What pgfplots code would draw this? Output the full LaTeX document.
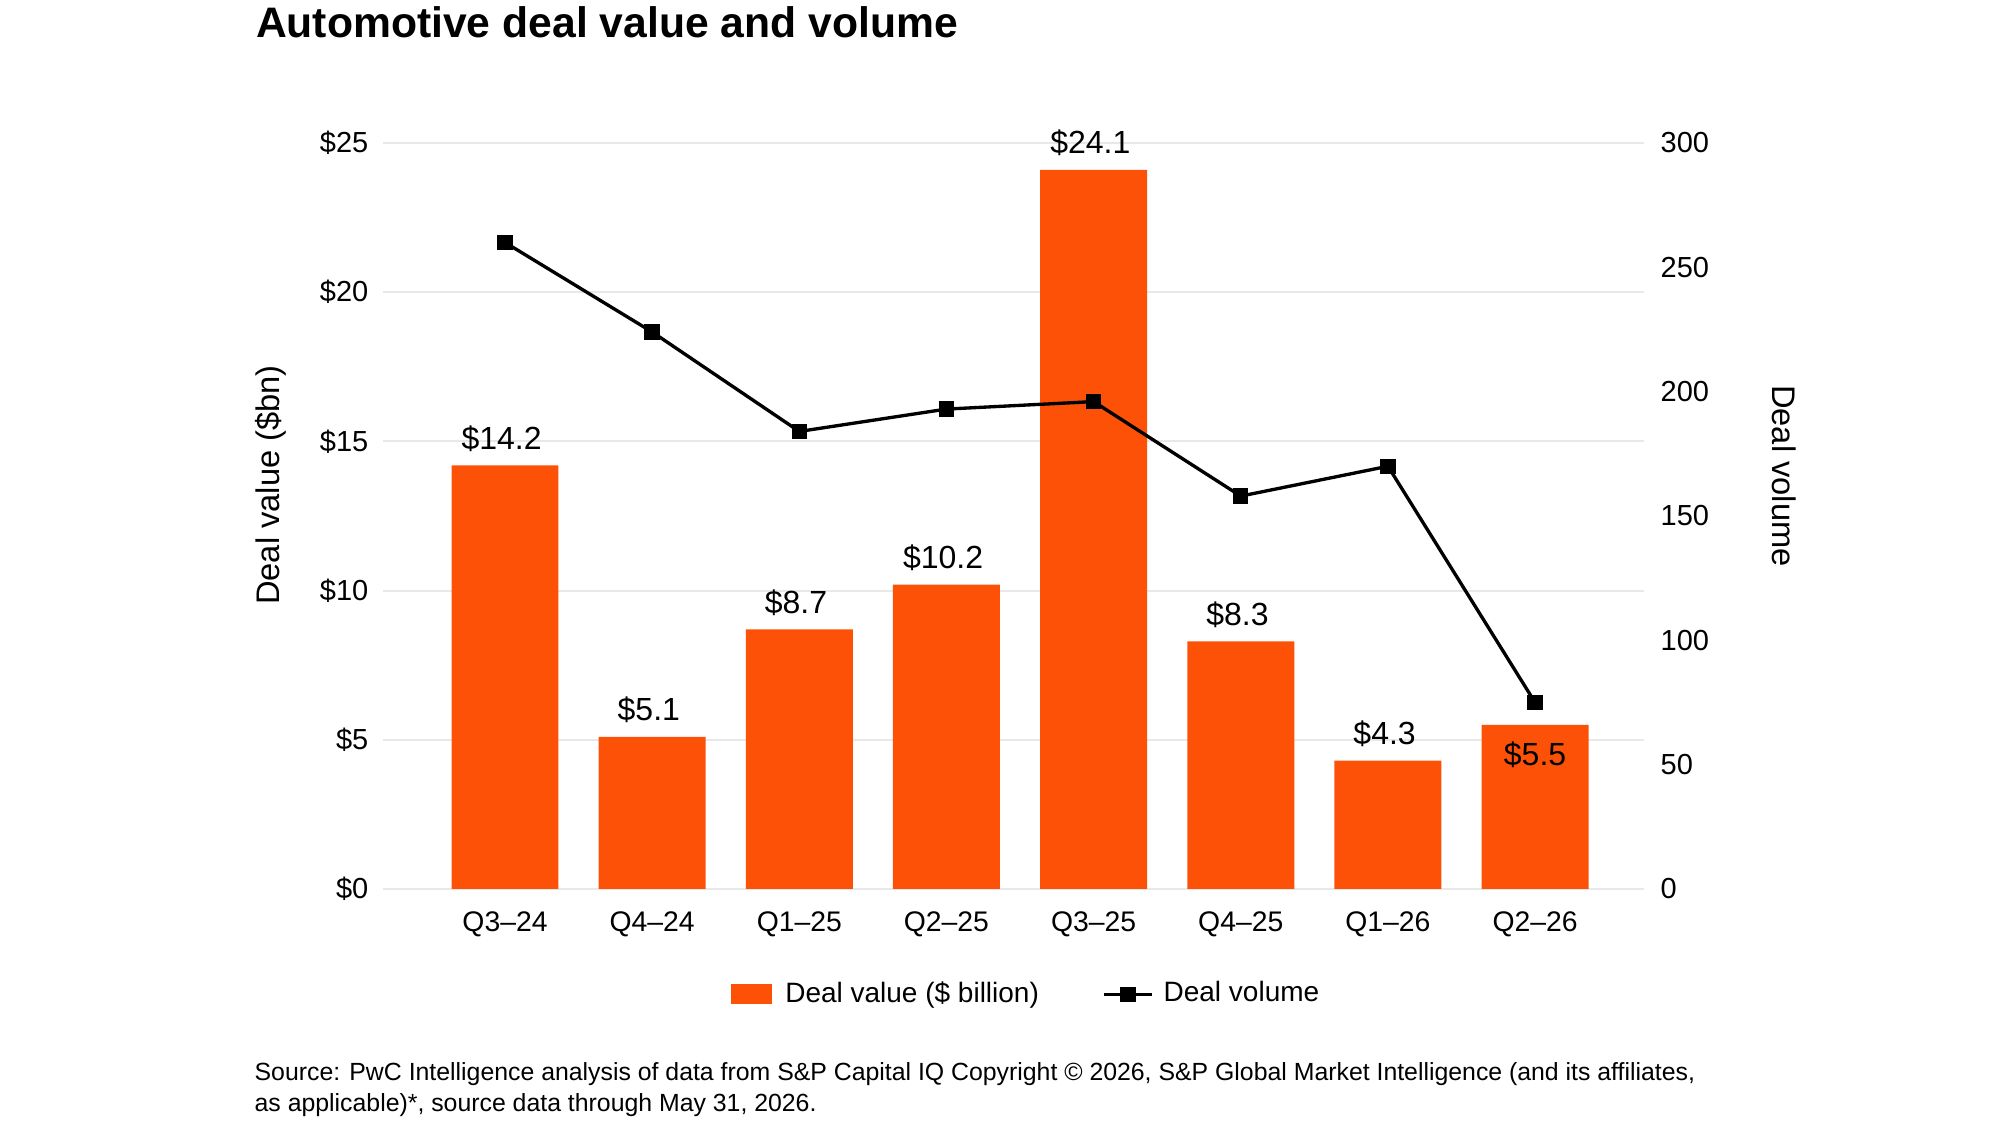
\documentclass[border=0pt]{standalone}
\usepackage{fontspec}
\setmainfont{Liberation Sans}
\usepackage{pgfplots}
\pgfplotsset{compat=1.18}
\definecolor{pwcorange}{RGB}{253,81,8}
\definecolor{gridgray}{RGB}{232,232,232}
\pgfplotsset{
  barleg/.style={legend image code/.code={\fill[pwcorange] (0pt,-2.85pt) rectangle (11.8pt,2.85pt); \path (13.8pt,0pt);}},
  volleg/.style={legend image code/.code={\draw[black, line width=1pt] (0pt,0pt) -- (14.4pt,0pt); \fill[black] (5.4pt,-1.8pt) rectangle (9pt,1.8pt); \path (15.4pt,0pt);}},
}
\begin{document}
\begin{tikzpicture}[x=1pt,y=1pt]
\path[use as bounding box] (0,0) rectangle (600,337.5);
% title
\node[anchor=base west, inner sep=0pt, font=\bfseries\fontsize{12.8}{15}\selectfont] at (76.6,326.1) {Automotive deal value and volume};
% axis labels
\node[rotate=90, inner sep=0pt, font=\fontsize{9.8}{11}\selectfont] at (81.3,192) {Deal value (\$bn)};
\node[rotate=-90, inner sep=0pt, font=\fontsize{9.8}{11}\selectfont] at (535.2,194.7) {Deal volume};
% source
\node[anchor=base west, inner sep=0pt, font=\fontsize{7.45}{9}\selectfont] at (76.2,13.2) {Source: PwC Intelligence analysis of data from S\&P Capital IQ Copyright © 2026, S\&P Global Market Intelligence (and its affiliates,};
\node[anchor=base west, inner sep=0pt, font=\fontsize{7.45}{9}\selectfont] at (76.2,4.2) {as applicable)*, source data through May 31, 2026.};

\begin{axis}[
  at={(114.9pt,70.8pt)}, anchor=south west,
  scale only axis, width=378.3pt, height=223.8pt,
  xmin=-0.829, xmax=7.74, ymin=0, ymax=25,
  clip=false,
  axis lines*=left,
  axis line style={draw=none},
  major tick length=0pt,
  /pgf/number format/assume math mode=true,
  ymajorgrids, grid style={gridgray, line width=0.6pt},
  ytick={0,5,10,15,20,25},
  yticklabel={\$\pgfmathprintnumber{\tick}},
  yticklabel style={font=\fontsize{8.7}{10}\selectfont, inner sep=0pt, anchor=east},
  yticklabel shift=4.2pt,
  xtick={0,1,2,3,4,5,6,7},
  xticklabels={Q3–24,Q4–24,Q1–25,Q2–25,Q3–25,Q4–25,Q1–26,Q2–26},
  xticklabel style={font=\fontsize{8.5}{10}\selectfont, inner sep=0pt, anchor=north},
  xticklabel shift=6.5pt,
]
\addplot[ybar, bar width=0.727, bar shift=0pt, fill=pwcorange, draw=none]
  coordinates {(0,14.2) (1,5.1) (2,8.7) (3,10.2) (4,24.1) (5,8.3) (6,4.3) (7,5.5)};
\addplot[draw=none, mark=none, point meta=y,
  nodes near coords={\$\pgfmathprintnumber[fixed,fixed zerofill,precision=1]{\pgfplotspointmeta}},
  every node near coord/.append style={font=\fontsize{9.6}{11}\selectfont, inner sep=0pt, anchor=south, yshift=4pt, xshift=-1pt}]
  coordinates {(0,14.2) (1,5.1) (2,8.7) (3,10.2) (4,24.1) (5,8.3) (6,4.3)};
\addplot[draw=none, mark=none, point meta=y,
  nodes near coords={\$\pgfmathprintnumber[fixed,fixed zerofill,precision=1]{\pgfplotspointmeta}},
  every node near coord/.append style={font=\fontsize{9.6}{11}\selectfont, inner sep=0pt, anchor=north, yshift=-4.8pt}]
  coordinates {(7,5.5)};
\end{axis}

\begin{axis}[
  at={(114.9pt,70.8pt)}, anchor=south west,
  scale only axis, width=378.3pt, height=223.8pt,
  xmin=-0.829, xmax=7.74, ymin=0, ymax=300,
  clip=false,
  axis x line=none,
  axis y line*=right,
  axis line style={draw=none},
  major tick length=0pt,
  /pgf/number format/assume math mode=true,
  ytick={0,50,100,150,200,250,300},
  yticklabel style={font=\fontsize{8.7}{10}\selectfont, inner sep=0pt, anchor=west},
  yticklabel shift=4.8pt,
  legend columns=2,
  legend style={at={(0.512,-0.141)}, anchor=center, draw=none, fill=none,
    font=\fontsize{8.4}{10}\selectfont,
    /tikz/every even column/.append style={column sep=17pt}},
]
\addlegendimage{barleg}
\addlegendentry{Deal value (\$ billion)}
\addplot[black, line width=1pt, mark=square*, mark size=1.8pt, volleg]
  coordinates {(0,260) (1,224) (2,184) (3,193) (4,196) (5,158) (6,170) (7,75)};
\addlegendentry{Deal volume}
\end{axis}
\end{tikzpicture}
\end{document}
